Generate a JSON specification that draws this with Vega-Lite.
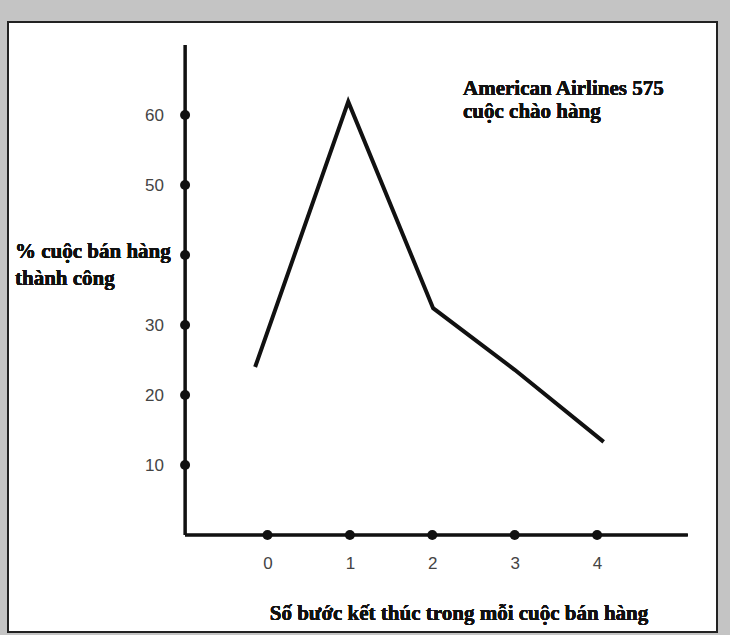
{
  "$schema": "https://vega.github.io/schema/vega-lite/v6.json",
  "width": 709,
  "height": 610,
  "autosize": {"type": "none"},
  "padding": {"left": 8, "top": 22, "right": 13, "bottom": 3},
  "background": "#c4c4c4",
  "config": {"view": {"stroke": "#222", "strokeWidth": 2, "fill": "white"}},
  "datasets": {
    "series": [
      {"steps": -0.15, "pct": 24.0},
      {"steps": 0.98, "pct": 61.9},
      {"steps": 2.01, "pct": 32.4},
      {"steps": 3.0, "pct": 23.6},
      {"steps": 4.08, "pct": 13.3}
    ],
    "xticks": [{"v": 0}, {"v": 1}, {"v": 2}, {"v": 3}, {"v": 4}],
    "yticks": [{"v": 10}, {"v": 20}, {"v": 30}, {"v": 40}, {"v": 50}, {"v": 60}]
  },
  "layer": [
    {
      "data": {"name": "xticks"},
      "mark": {"type": "rule", "strokeWidth": 2.5, "color": "#111"},
      "encoding": {
        "x": {"datum": -1, "type": "quantitative", "scale": {"domain": [-3.149, 5.455], "nice": false, "zero": false},
          "axis": {"orient": "bottom", "offset": -97, "values": [0, 1, 2, 3, 4], "format": "d", "ticks": false, "domain": false, "grid": false, "labelPadding": 20, "labelFont": "Liberation Sans", "labelFontSize": 17, "labelColor": "#444", "title": null}},
        "y": {"datum": 0, "type": "quantitative", "scale": {"domain": [-13.857, 73.286], "nice": false, "zero": false},
          "axis": {"orient": "left", "offset": -177.5, "values": [10, 20, 30, 50, 60], "format": "d", "ticks": false, "domain": false, "grid": false, "labelPadding": 22, "labelFont": "Liberation Sans", "labelFontSize": 17, "labelColor": "#444", "title": null}},
        "y2": {"datum": 70}
      }
    },
    {
      "data": {"name": "xticks"},
      "mark": {"type": "rule", "strokeWidth": 2.5, "color": "#111"},
      "encoding": {
        "x": {"datum": -1, "type": "quantitative"},
        "x2": {"datum": 5.1},
        "y": {"datum": 0, "type": "quantitative"}
      }
    },
    {
      "data": {"name": "xticks"},
      "mark": {"type": "point", "filled": true, "size": 100, "color": "#111", "opacity": 1},
      "encoding": {
        "x": {"field": "v", "type": "quantitative"},
        "y": {"datum": 0, "type": "quantitative"}
      }
    },
    {
      "data": {"name": "yticks"},
      "mark": {"type": "point", "filled": true, "size": 100, "color": "#111", "opacity": 1},
      "encoding": {
        "x": {"datum": -1, "type": "quantitative"},
        "y": {"field": "v", "type": "quantitative"}
      }
    },
    {
      "data": {"name": "series"},
      "mark": {"type": "line", "strokeWidth": 4, "color": "#111"},
      "encoding": {
        "x": {"field": "steps", "type": "quantitative"},
        "y": {"field": "pct", "type": "quantitative"}
      }
    },
    {
      "data": {"name": "xticks"},
      "mark": {"type": "text", "text": ["American Airlines 575", "cuộc chào hàng"], "align": "left", "baseline": "alphabetic", "font": "Liberation Serif", "fontWeight": "bold", "fontSize": 21, "lineHeight": 23, "color": "#111"},
      "encoding": {
        "x": {"datum": 2.373, "type": "quantitative"},
        "y": {"datum": 62.86, "type": "quantitative"}
      }
    },
    {
      "data": {"name": "xticks"},
      "mark": {"type": "text", "text": ["% cuộc bán hàng", "thành công"], "align": "left", "baseline": "alphabetic", "font": "Liberation Serif", "fontWeight": "bold", "fontSize": 21, "lineHeight": 27, "color": "#111"},
      "encoding": {
        "x": {"datum": -3.064, "type": "quantitative"},
        "y": {"datum": 39.57, "type": "quantitative"}
      }
    },
    {
      "data": {"name": "xticks"},
      "mark": {"type": "text", "text": "Số bước kết thúc trong mỗi cuộc bán hàng", "align": "center", "baseline": "alphabetic", "font": "Liberation Serif", "fontWeight": "bold", "fontSize": 21, "color": "#111"},
      "encoding": {
        "x": {"datum": 2.324, "type": "quantitative"},
        "y": {"datum": -12.14, "type": "quantitative"}
      }
    }
  ]
}
